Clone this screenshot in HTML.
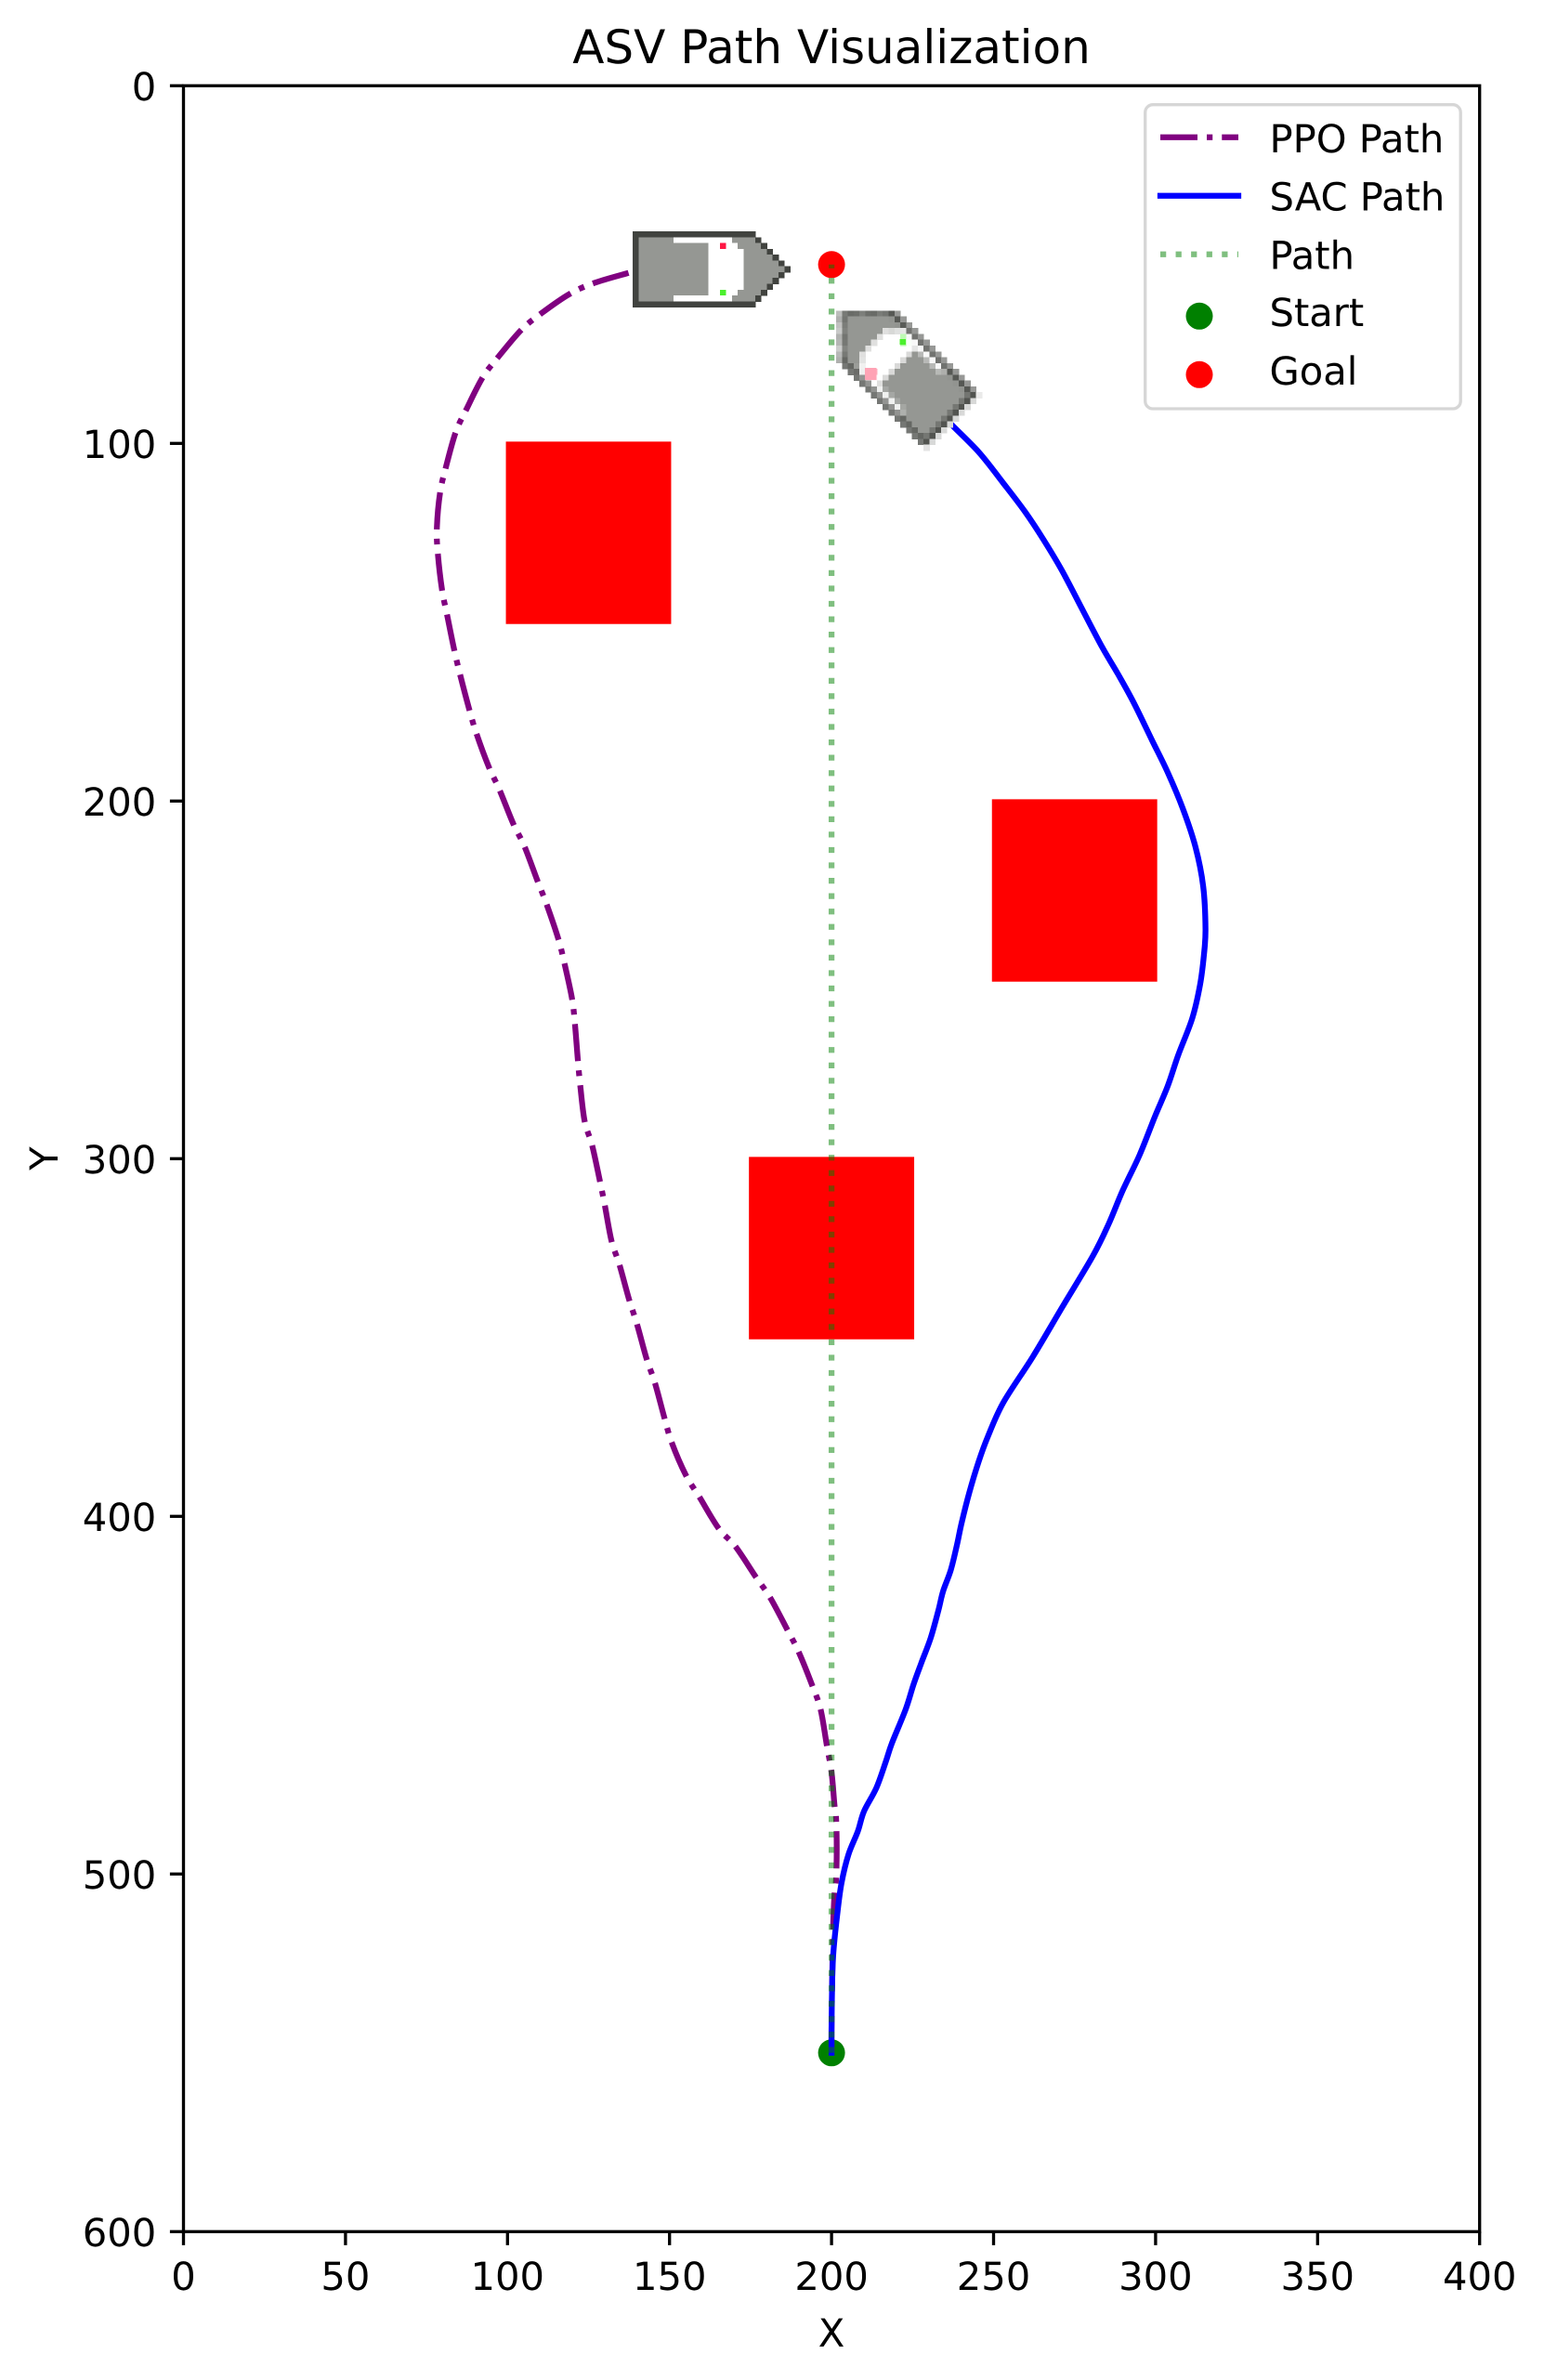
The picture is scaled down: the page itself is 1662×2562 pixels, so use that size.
<!DOCTYPE html>
<html lang="en">
<head>
<meta charset="utf-8">
<title>ASV Path Visualization</title>
<style>
html,body{margin:0;padding:0;background:#fff;}
svg{display:block;}
text{font-family:"DejaVu Sans","Liberation Sans",sans-serif;fill:#000;text-rendering:geometricPrecision;}
</style>
</head>
<body>
<svg id="chart" xmlns="http://www.w3.org/2000/svg" width="1662" height="2562" viewBox="0 0 1662 2562">
  <rect x="0" y="0" width="1662" height="2562" fill="#ffffff"/>
  <g id="obstacles"></g>
  <g id="markers"></g>
  <g id="lines"></g>
  <g id="boats"></g>
  <g id="axes"></g>
  <text x="895" y="68" font-size="50" text-anchor="middle">ASV Path Visualization</text>
  <text x="895" y="2526" font-size="41.67" text-anchor="middle">X</text>
  <text transform="translate(62 1247) rotate(-90)" font-size="41.67" text-anchor="middle">Y</text>
  <g>
    <rect x="1232.7" y="112.7" width="339.5" height="327.3" rx="8.3" ry="8.3" fill="#ffffff" stroke="#d6d6d6" stroke-width="3.33"/>
    <line x1="1249" y1="147.7" x2="1333" y2="147.7" stroke="#800080" stroke-width="6.25" stroke-dasharray="40 10 6.25 10"/>
    <text x="1366.5" y="164" font-size="41.67">PPO Path</text>
    <line x1="1249" y1="210.7" x2="1333" y2="210.7" stroke="#0000ff" stroke-width="6.25" stroke-linecap="square"/>
    <text x="1366.5" y="226.7" font-size="41.67">SAC Path</text>
    <line x1="1249" y1="273.7" x2="1333" y2="273.7" stroke="#008000" stroke-opacity="0.5" stroke-width="6.25" stroke-dasharray="6.25 10.31"/>
    <text x="1366.5" y="289.3" font-size="41.67">Path</text>
    <circle cx="1291" cy="340.3" r="14.5" fill="#008000"/>
    <text x="1366.5" y="351" font-size="41.67">Start</text>
    <circle cx="1291" cy="403.3" r="14.5" fill="#ff0000"/>
    <text x="1366.5" y="414" font-size="41.67">Goal</text>
  </g>
</svg>
<script>
// ---- chart data (data coordinates, y axis inverted) ----
var xTicks = [0, 50, 100, 150, 200, 250, 300, 350, 400];
var yTicks = [0, 100, 200, 300, 400, 500, 600];

var ppoX = [200, 200, 200.2, 200.5, 200.9, 201.4, 201.6, 201.4, 200.9, 200, 198.5, 196.6, 194, 189.9, 186.4, 181.1, 176.6, 170.4, 165.1, 159.3, 155, 150.7, 148.4, 145.5, 142.9, 140, 137.4, 134.5, 132.1, 130, 128.5, 126.1, 123.8, 122.4, 121.7, 120.8, 119.9, 117.5, 115.7, 112, 109.2, 105.2, 101.8, 97.5, 94.2, 90.4, 88.2, 85.3, 83.5, 81.3, 79.8, 78.5, 78.2, 79.2, 81, 84, 87.3, 92.3, 97, 104.1, 110.2, 119.2, 126.9, 137.4, 142];
var ppoY = [550, 543, 530, 514.5, 505.9, 501.4, 492.9, 484.4, 480.7, 471.6, 463.8, 453.9, 447.2, 438, 431.8, 422.8, 416.9, 408.5, 403.3, 394.7, 388.4, 379.4, 372.4, 362.7, 355.9, 346.4, 339, 329.5, 323, 312.9, 306.2, 296.2, 289.5, 279.1, 272.3, 262.3, 255.2, 245.1, 238.6, 228.7, 222.2, 212.6, 206.4, 196.8, 190.4, 181.1, 174.4, 164.4, 157.5, 147.7, 141, 130.8, 123.6, 113.7, 106.6, 96.9, 90.5, 81.6, 76, 68.4, 63.8, 58.2, 55.1, 52.3, 51];

var sacX = [200, 200, 200.2, 200.6, 201.9, 203.1, 205.2, 208.1, 210, 213.8, 216.7, 218.6, 222.9, 225.3, 227.7, 230.6, 233, 234.4, 236.8, 238.7, 240.1, 242.5, 245.4, 248.2, 253, 262.1, 271.2, 280.7, 285.5, 289.8, 295.1, 299.8, 303.7, 307, 311.3, 313.7, 314.9, 315.4, 314.7, 312.3, 308.4, 303.7, 298.9, 293.2, 288.4, 283.6, 277.9, 271.2, 265.4, 259.7, 253, 245.4, 235.8, 233];
var sacY = [550, 543, 530, 521.5, 510.2, 502.4, 494.6, 488.1, 482.5, 476, 468.7, 463.5, 453.9, 447, 441, 434, 426.2, 421, 415, 408, 402, 393.4, 384.7, 377.8, 368.2, 355.4, 341.5, 327.1, 318.3, 309, 298.9, 288.2, 279.8, 271, 260.8, 251.5, 243.2, 235.8, 223.9, 212.8, 202.1, 191.9, 183, 172.4, 164.5, 157.1, 147.3, 135.7, 126.9, 119.1, 111.1, 102.4, 93.6, 90];

var refX = [200, 200];
var refY = [550, 50];

var obstacleX = [100, 250, 175];
var obstacleY = [100, 200, 300];
var obstacleSize = [50, 50, 50];

var startPoint = [200, 550];
var goalPoint = [200, 50];

// ---- scales ----
var AXL = 197.5, AXR = 1592.7, AXT = 92.3, AXB = 2402.3;
function sx(v) { return AXL + (v / 400) * (AXR - AXL); }
function sy(v) { return AXT + (v / 600) * (AXB - AXT); }

var NS = 'http://www.w3.org/2000/svg';
function make(tag, parent) {
  var el = document.createElementNS(NS, tag);
  parent.appendChild(el);
  return el;
}
function lineD(xs, ys) {
  var d = '';
  for (var i = 0; i < xs.length; i++) {
    d += (i ? 'L' : 'M') + sx(xs[i]).toFixed(2) + ' ' + sy(ys[i]).toFixed(2);
  }
  return d;
}
// Smooth curve through the traced points (Catmull-Rom to cubic Bezier)
function smoothD(xs, ys) {
  var n = xs.length;
  var px = xs.map(sx), py = ys.map(sy);
  var d = 'M' + px[0].toFixed(2) + ' ' + py[0].toFixed(2);
  for (var i = 0; i < n - 1; i++) {
    var i0 = Math.max(i - 1, 0), i3 = Math.min(i + 2, n - 1);
    var c1x = px[i] + (px[i + 1] - px[i0]) / 6;
    var c1y = py[i] + (py[i + 1] - py[i0]) / 6;
    var c2x = px[i + 1] - (px[i3] - px[i]) / 6;
    var c2y = py[i + 1] - (py[i3] - py[i]) / 6;
    d += 'C' + c1x.toFixed(2) + ' ' + c1y.toFixed(2) + ' ' + c2x.toFixed(2) + ' ' + c2y.toFixed(2) + ' ' + px[i + 1].toFixed(2) + ' ' + py[i + 1].toFixed(2);
  }
  return d;
}

// ---- obstacles ----
var gObs = document.getElementById('obstacles');
obstacleX.forEach(function (ox, i) {
  var r = make('rect', gObs);
  
  
  var x0 = sx(ox - 0.5), x1 = sx(ox + obstacleSize[i] + 0.5);
  var y0 = sy(obstacleY[i] - 0.5), y1 = sy(obstacleY[i] + obstacleSize[i] + 0.5);
  r.setAttribute('x', x0);
  r.setAttribute('y', y0);
  r.setAttribute('width', x1 - x0);
  r.setAttribute('height', y1 - y0);
  r.setAttribute('fill', '#ff0000');
});

// ---- start / goal markers ----
var gMk = document.getElementById('markers');
var startEl = make('circle', gMk);


startEl.setAttribute('cx', sx(startPoint[0]));
startEl.setAttribute('cy', sy(startPoint[1]));
startEl.setAttribute('r', 14.5);
startEl.setAttribute('fill', '#008000');
var goalEl = make('circle', gMk);


goalEl.setAttribute('cx', sx(goalPoint[0]));
goalEl.setAttribute('cy', sy(goalPoint[1]));
goalEl.setAttribute('r', 14.5);
goalEl.setAttribute('fill', '#ff0000');

// ---- lines ----
var gLines = document.getElementById('lines');
var ppoEl = make('path', gLines);


ppoEl.setAttribute('d', smoothD(ppoX, ppoY));
ppoEl.setAttribute('fill', 'none');
ppoEl.setAttribute('stroke', '#800080');
ppoEl.setAttribute('stroke-width', '6.25');
ppoEl.setAttribute('stroke-linejoin', 'round');
ppoEl.setAttribute('stroke-dasharray', '40 10 6.25 10');
var sacEl = make('path', gLines);


sacEl.setAttribute('d', smoothD(sacX, sacY));
sacEl.setAttribute('fill', 'none');
sacEl.setAttribute('stroke', '#0000ff');
sacEl.setAttribute('stroke-width', '6.25');
sacEl.setAttribute('stroke-linejoin', 'round');
sacEl.setAttribute('stroke-linecap', 'square');
var refEl = make('path', gLines);


refEl.setAttribute('d', lineD(refX, refY));
refEl.setAttribute('fill', 'none');
refEl.setAttribute('stroke', '#008000');
refEl.setAttribute('stroke-opacity', '0.5');
refEl.setAttribute('stroke-width', '6.25');
refEl.setAttribute('stroke-dasharray', '6.25 10.31');

// ---- boat sprite ----
var spriteRows = [
  'ddddddddddddddddddddd......',
  'dggggggwwwwwwwwwwggggd.....',
  'dggggggggggggwwrwwggggd....',
  'dggggggggggggwwwwwwggggd...',
  'dggggggggggggwwwwwwgggggd..',
  'dggggggggggggwwwwwwggggggd.',
  'dggggggggggggwwwwwwgggggggd',
  'dggggggggggggwwwwwwggggggd.',
  'dggggggggggggwwwwwwgggggd..',
  'dggggggggggggwwwwwwggggd...',
  'dggggggggggggwwlwwggggd....',
  'dggggggwwwwwwwwwwggggd.....',
  'ddddddddddddddddddddd......'
];
var spriteColors = {
  d: [65, 67, 63],
  g: [149, 151, 147],
  w: [255, 255, 255],
  r: [255, 23, 68],
  l: [76, 240, 46],
  '.': [255, 255, 255]
};
var U = 6.28;
var gBoats = document.getElementById('boats');

// PPO boat: axis-aligned sprite
var ppoBoat = make('g', gBoats);


ppoBoat.setAttribute('shape-rendering', 'crispEdges');
spriteRows.forEach(function (row, r) {
  for (var c = 0; c < row.length; c++) {
    var ch = row[c];
    if (ch === '.') continue;
    var end = c;
    while (end + 1 < row.length && row[end + 1] === ch) end++;
    var cell = make('rect', ppoBoat);
    cell.setAttribute('x', (681 + c * U).toFixed(2));
    cell.setAttribute('y', (249 + r * U).toFixed(2));
    cell.setAttribute('width', ((end - c + 1) * U + 0.4).toFixed(2));
    cell.setAttribute('height', (U + 0.4).toFixed(2));
    var col = spriteColors[ch];
    cell.setAttribute('fill', 'rgb(' + col.join(',') + ')');
    c = end;
  }
});

// SAC boat: sprite rotated 45 degrees and resampled on the same pixel grid
var sacBoat = make('g', gBoats);


sacBoat.setAttribute('shape-rendering', 'crispEdges');
function spritePx(c, r) {
  var row = spriteRows[r];
  if (!row || c < 0 || c >= row.length) return spriteColors['.'];
  return spriteColors[row[c]];
}
function sampleSprite(s, r) {
  var fs = s - 0.5, fr = r - 0.5;
  var c0 = Math.floor(fs), r0 = Math.floor(fr);
  var a = fs - c0, b = fr - r0;
  var out = [0, 0, 0];
  for (var k = 0; k < 3; k++) {
    out[k] = (1 - a) * (1 - b) * spritePx(c0, r0)[k] + a * (1 - b) * spritePx(c0 + 1, r0)[k] +
             (1 - a) * b * spritePx(c0, r0 + 1)[k] + a * b * spritePx(c0 + 1, r0 + 1)[k];
  }
  return out;
}
var TIPX = 904, TIPY = 332.8, D = Math.SQRT1_2;
for (var gy = 0; gy < 28; gy++) {
  for (var gx = 0; gx < 28; gx++) {
    var cxp = 900 + (gx + 0.5) * U, cyp = 334.3 + (gy + 0.5) * U;
    var vx = cxp - TIPX, vy = cyp - TIPY;
    var s = 27 - (vx * D + vy * D) / U;
    var rr = 6.5 + (vx * D - vy * D) / U;
    var col2 = sampleSprite(s, rr);
    if (col2[0] > 250 && col2[1] > 250 && col2[2] > 250) continue;
    var px = make('rect', sacBoat);
    px.setAttribute('x', (900 + gx * U).toFixed(2));
    px.setAttribute('y', (334.3 + gy * U).toFixed(2));
    px.setAttribute('width', (U + 0.4).toFixed(2));
    px.setAttribute('height', (U + 0.4).toFixed(2));
    px.setAttribute('fill', 'rgb(' + Math.round(col2[0]) + ',' + Math.round(col2[1]) + ',' + Math.round(col2[2]) + ')');
  }
}
var sacGreen = make('rect', sacBoat);


sacGreen.setAttribute('x', 968.3);
sacGreen.setAttribute('y', 365);
sacGreen.setAttribute('width', 6.7);
sacGreen.setAttribute('height', 6);
sacGreen.setAttribute('fill', '#4cf02e');
var sacRed = make('rect', sacBoat);


sacRed.setAttribute('x', 931);
sacRed.setAttribute('y', 396);
sacRed.setAttribute('width', 12.5);
sacRed.setAttribute('height', 13);
sacRed.setAttribute('fill', '#ffa3b5');

// ---- axes ----
var gAxes = document.getElementById('axes');
var frame = make('rect', gAxes);


frame.setAttribute('x', AXL);
frame.setAttribute('y', AXT);
frame.setAttribute('width', AXR - AXL);
frame.setAttribute('height', AXB - AXT);
frame.setAttribute('fill', 'none');
frame.setAttribute('stroke', '#000');
frame.setAttribute('stroke-width', '3.33');
xTicks.forEach(function (t) {
  var tick = make('line', gAxes);
  
  
  tick.setAttribute('x1', sx(t));
  tick.setAttribute('x2', sx(t));
  tick.setAttribute('y1', AXB);
  tick.setAttribute('y2', AXB + 14.6);
  tick.setAttribute('stroke', '#000');
  tick.setAttribute('stroke-width', '3.33');
  var lab = make('text', gAxes);
  
  
  lab.setAttribute('x', sx(t));
  lab.setAttribute('y', 2465);
  lab.setAttribute('font-size', '41.67');
  lab.setAttribute('text-anchor', 'middle');
  lab.textContent = String(t);
});
yTicks.forEach(function (t) {
  var tick = make('line', gAxes);
  
  
  tick.setAttribute('x1', AXL - 14.6);
  tick.setAttribute('x2', AXL);
  tick.setAttribute('y1', sy(t));
  tick.setAttribute('y2', sy(t));
  tick.setAttribute('stroke', '#000');
  tick.setAttribute('stroke-width', '3.33');
  var lab = make('text', gAxes);
  
  
  lab.setAttribute('x', AXL - 29.2);
  lab.setAttribute('y', sy(t) + 15.7);
  lab.setAttribute('font-size', '41.67');
  lab.setAttribute('text-anchor', 'end');
  lab.textContent = String(t);
});
</script>
</body>
</html>
